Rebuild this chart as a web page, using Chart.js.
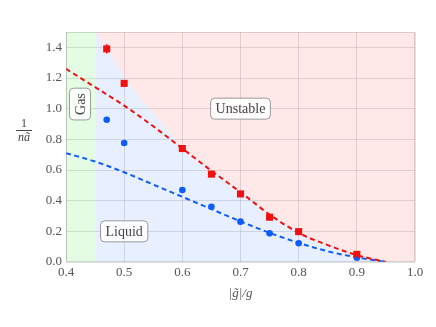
<!DOCTYPE html>
<html lang="en">
<head>
  <meta charset="UTF-8" />
  <title>Phase diagram</title>
  <style>
    html, body { margin: 0; padding: 0; background: #fff; }
    #wrap { width: 436px; height: 327px; }
  </style>
</head>
<body>
  <div id="wrap"><canvas id="phaseChart" width="436" height="327"></canvas></div>
  <script src="https://cdn.jsdelivr.net/npm/chart.js"></script>
  <script>
    // measured points (red squares / blue circles)
    const ptX = [0.47, 0.5, 0.6, 0.65, 0.7, 0.75, 0.8, 0.9];
    const redY = [1.39, 1.165, 0.74, 0.573, 0.444, 0.292, 0.198, 0.05];
    const redErr = [0.03, 0.01, 0.02, 0.015, 0.01, 0.015, 0.01, 0.015];
    const blueY = [0.928, 0.776, 0.47, 0.36, 0.263, 0.187, 0.122, 0.028];
    const blueErr = [0.01, 0.005, 0.01, 0.012, 0.008, 0.008, 0.01, 0.01];

    // dashed fit curves
    const fitX = [0.4, 0.45, 0.5, 0.55, 0.6, 0.65, 0.7, 0.75, 0.8, 0.85, 0.9, 0.95];
    const redFit = [1.26, 1.14, 1.02, 0.885, 0.74, 0.595, 0.455, 0.31, 0.19, 0.11, 0.045, 0.0];
    const blueFit = [0.71, 0.655, 0.585, 0.505, 0.425, 0.345, 0.265, 0.19, 0.125, 0.07, 0.03, 0.0];

    // region boundaries
    const gasX = [0.4, 0.45];
    const gasY = [1.5, 1.5];
    const edgeX = [0.45, 0.475, 0.5, 0.525, 0.55, 0.575, 0.6, 0.65, 0.7, 0.75, 0.8, 0.85, 0.9, 0.95, 1.0];
    const edgeY = [1.5, 1.37, 1.21, 1.08, 0.975, 0.86, 0.74, 0.595, 0.455, 0.31, 0.19, 0.11, 0.045, 0.0, 0.0];

    // text labels: [text, x, y, rotated]
    const regionLabels = [
      ['Gas', 0.424, 1.03, true],
      ['Unstable', 0.7, 1.0, false],
      ['Liquid', 0.5, 0.2, false]
    ];

    const xTicks = [0.4, 0.5, 0.6, 0.7, 0.8, 0.9, 1.0];
    const yTicks = [0, 0.2, 0.4, 0.6, 0.8, 1.0, 1.2, 1.4];

    const RED = '#f01010';
    const BLUE = '#0d5cff';
    const SERIF = '"Liberation Serif", "DejaVu Serif", serif';

    const pts = (xs, ys) => xs.map((x, i) => ({ x: x, y: ys[i] }));

    const errorBars = {
      id: 'errorBars',
      afterDatasetsDraw(chart) {
        const { ctx, scales: { x, y } } = chart;
        const sets = [[redY, redErr, RED], [blueY, blueErr, BLUE]];
        ctx.save();
        ctx.lineWidth = 1.5;
        sets.forEach(([ys, errs, col]) => {
          ctx.strokeStyle = col;
          ys.forEach((v, i) => {
            const px = x.getPixelForValue(ptX[i]);
            ctx.beginPath();
            ctx.moveTo(px, y.getPixelForValue(v - errs[i]));
            ctx.lineTo(px, y.getPixelForValue(v + errs[i]));
            ctx.stroke();
          });
        });
        ctx.restore();
      }
    };

    const labelsAndFrame = {
      id: 'labelsAndFrame',
      afterDraw(chart) {
        const { ctx, chartArea: a, scales: { x, y } } = chart;
        ctx.save();
        ctx.strokeStyle = 'rgba(150,150,150,0.35)';
        ctx.lineWidth = 1;
        ctx.strokeRect(a.left + 0.5, a.top + 0.5, a.right - a.left - 1, a.bottom - a.top - 1);

        ctx.font = '14px ' + SERIF;
        ctx.textAlign = 'center';
        ctx.textBaseline = 'middle';
        regionLabels.forEach(([txt, lx, ly, rot]) => {
          const w = ctx.measureText(txt).width + 10;
          const h = 21;
          ctx.save();
          ctx.translate(x.getPixelForValue(lx), y.getPixelForValue(ly));
          if (rot) ctx.rotate(-Math.PI / 2);
          ctx.beginPath();
          ctx.roundRect(-w / 2, -h / 2, w, h, 4);
          ctx.fillStyle = 'rgba(255,255,255,0.9)';
          ctx.fill();
          ctx.strokeStyle = '#999';
          ctx.stroke();
          ctx.fillStyle = '#444';
          ctx.fillText(txt, 0, 1);
          ctx.restore();
        });

        // y label as a fraction 1 / (n ã)
        const cx = 24, cy = 130;
        ctx.fillStyle = '#444';
        ctx.font = '12px ' + SERIF;
        ctx.fillText('1', cx, cy - 6);
        ctx.beginPath();
        ctx.moveTo(cx - 8, cy + 0.5);
        ctx.lineTo(cx + 8, cy + 0.5);
        ctx.strokeStyle = '#444';
        ctx.stroke();
        ctx.font = 'italic 12px ' + SERIF;
        ctx.fillText('nã', cx, cy + 8);
        ctx.restore();
      }
    };

    new Chart(document.getElementById('phaseChart').getContext('2d'), {
      type: 'line',
      data: {
        datasets: [
          {
            label: 'red points', data: pts(ptX, redY), showLine: false,
            pointStyle: 'rect', pointRadius: 5, backgroundColor: RED, borderColor: RED, borderWidth: 0
          },
          {
            label: 'blue points', data: pts(ptX, blueY), showLine: false,
            pointStyle: 'circle', pointRadius: 3.3, backgroundColor: BLUE, borderColor: BLUE, borderWidth: 0
          },
          {
            label: 'red fit', data: pts(fitX, redFit), borderColor: RED, borderWidth: 2,
            borderDash: [5, 3.5], pointRadius: 0, fill: false, cubicInterpolationMode: 'monotone'
          },
          {
            label: 'blue fit', data: pts(fitX, blueFit), borderColor: BLUE, borderWidth: 2,
            borderDash: [5, 3.5], pointRadius: 0, fill: false, cubicInterpolationMode: 'monotone'
          },
          {
            label: 'unstable', data: pts(edgeX, edgeY), borderWidth: 0, pointRadius: 0,
            fill: 'end', backgroundColor: 'rgba(255,0,0,0.09)', cubicInterpolationMode: 'monotone'
          },
          {
            label: 'liquid', data: pts(edgeX, edgeY), borderWidth: 0, pointRadius: 0,
            fill: 'origin', backgroundColor: 'rgba(0,80,255,0.09)', cubicInterpolationMode: 'monotone'
          },
          {
            label: 'gas', data: pts(gasX, gasY), borderWidth: 0, pointRadius: 0,
            fill: 'origin', backgroundColor: 'rgba(0,230,0,0.11)'
          }
        ]
      },
      options: {
        responsive: false,
        animation: false,
        layout: { padding: { left: 0, right: 21, top: 32, bottom: 0 } },
        plugins: { legend: { display: false }, tooltip: { enabled: false } },
        scales: {
          x: {
            type: 'linear', min: 0.4, max: 1.0,
            afterFit: s => { s.height = 65; },
            afterBuildTicks: s => { s.ticks = xTicks.map(v => ({ value: v })); },
            grid: { color: 'rgba(120,120,120,0.22)', drawTicks: false },
            border: { display: false },
            ticks: {
              padding: 3, color: '#555', font: { family: SERIF, size: 13 },
              callback: v => v.toFixed(1)
            },
            title: {
              display: true, text: '|g̃|/g', color: '#555',
              font: { family: SERIF, size: 13, style: 'italic' },
              padding: { top: 0, bottom: 26 }
            }
          },
          y: {
            min: 0, max: 1.5,
            afterFit: s => { s.width = 66; },
            afterBuildTicks: s => { s.ticks = yTicks.map(v => ({ value: v })); },
            grid: { color: 'rgba(120,120,120,0.22)', drawTicks: false },
            border: { display: false },
            ticks: {
              padding: 4, color: '#555', font: { family: SERIF, size: 13 },
              callback: v => v.toFixed(1)
            }
          }
        }
      },
      plugins: [errorBars, labelsAndFrame]
    });
  </script>
</body>
</html>
